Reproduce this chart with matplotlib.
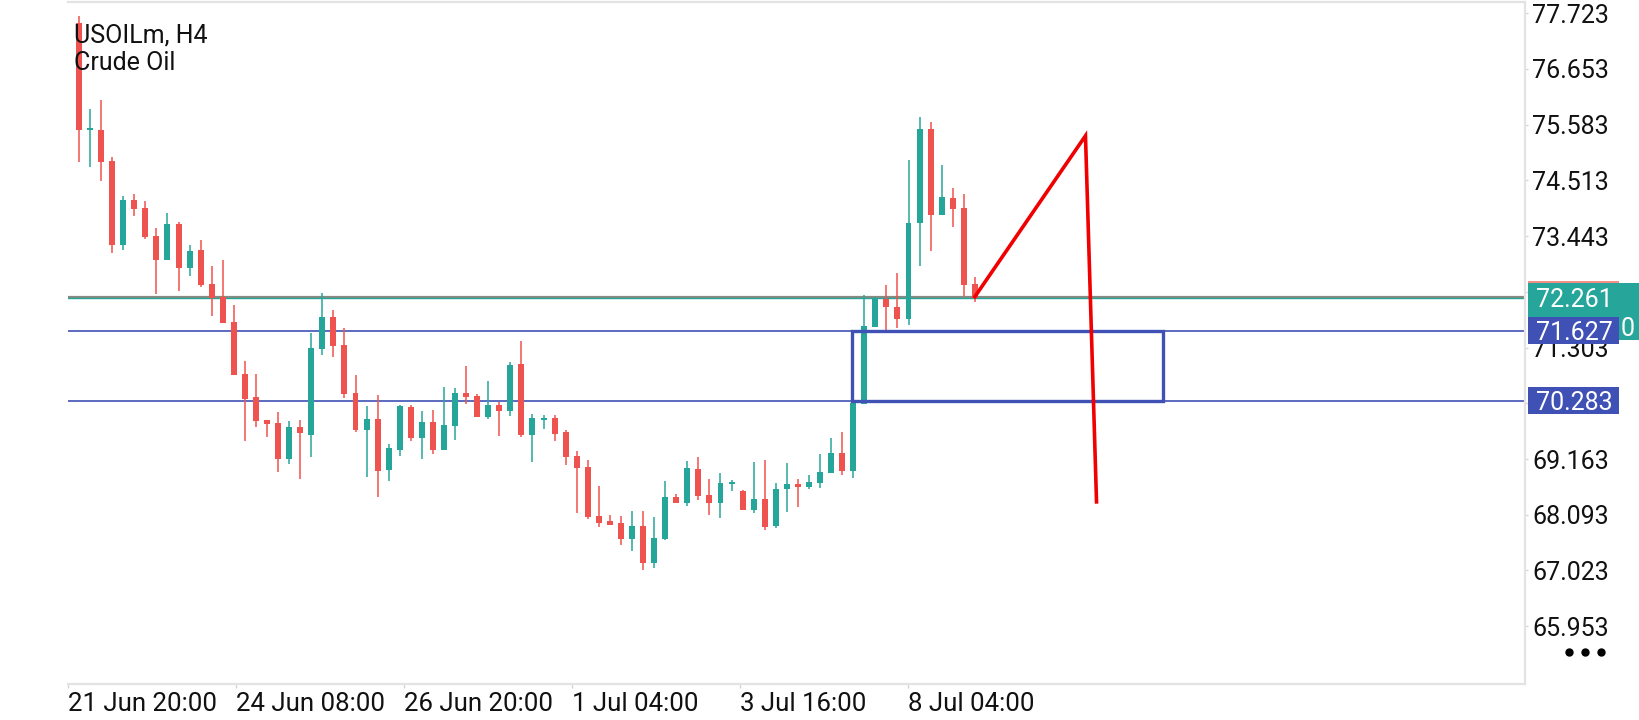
import matplotlib
matplotlib.use("Agg")
import matplotlib.pyplot as plt
import matplotlib.transforms as mtrans
from matplotlib.patches import Rectangle
from matplotlib.lines import Line2D
import numpy as np

plt.rcParams['font.family'] = ['Roboto', 'DejaVu Sans']

# ---------------- data (USOILm H4) ----------------
opens = [77.53, 75.48, 75.48, 74.89, 73.27, 74.14, 73.98, 73.45, 72.98, 73.68,
         72.84, 73.18, 72.52, 72.27, 71.79, 70.80, 70.35, 69.91, 69.85, 69.17,
         69.78, 69.63, 71.28, 71.89, 71.35, 70.43, 69.72, 69.93, 68.95, 69.34,
         70.16, 69.57, 69.87, 69.34, 69.80, 70.43, 70.37, 69.97, 70.20, 70.09,
         70.99, 69.63, 69.92, 69.95, 69.68, 69.22, 69.01, 68.07, 67.97, 67.94,
         67.63, 67.88, 67.17, 67.63, 68.43, 68.32, 68.97, 68.47, 68.32, 68.69,
         68.55, 68.19, 68.40, 67.88, 68.59, 68.68, 68.63, 68.71, 68.90, 69.28,
         68.94, 70.22, 71.70, 72.24, 72.08, 71.85, 73.69, 75.50, 73.85, 74.17,
         73.98, 72.52]
highs = [77.67, 75.89, 76.06, 74.97, 74.21, 74.25, 74.12, 73.59, 73.89, 73.72,
         73.27, 73.37, 72.87, 72.98, 72.12, 71.05, 70.80, 69.91, 70.06, 69.90,
         69.91, 71.58, 72.35, 72.02, 71.67, 70.77, 70.18, 70.39, 69.45, 70.21,
         70.21, 70.09, 70.10, 70.55, 70.52, 70.95, 70.42, 70.67, 70.26, 71.03,
         71.42, 70.03, 70.00, 70.00, 69.72, 69.31, 69.14, 68.65, 68.09, 68.07,
         68.17, 68.17, 68.05, 68.74, 68.49, 69.13, 69.20, 68.78, 68.89, 68.76,
         68.57, 69.11, 69.14, 68.70, 69.08, 68.77, 68.86, 69.26, 69.57, 69.68,
         70.23, 72.31, 72.27, 72.50, 72.73, 74.90, 75.74, 75.63, 74.81, 74.37,
         74.25, 72.66]
lows = [74.87, 74.78, 74.51, 73.12, 73.18, 73.83, 73.39, 72.33, 72.98, 72.38,
        72.68, 72.47, 71.90, 71.77, 70.78, 69.51, 69.78, 69.59, 68.92, 69.06,
        68.77, 69.21, 71.17, 71.13, 70.34, 69.69, 68.82, 68.44, 68.75, 69.23,
        69.50, 69.17, 69.26, 69.33, 69.53, 70.22, 69.97, 69.94, 69.61, 69.99,
        69.59, 69.11, 69.73, 69.51, 69.05, 68.13, 68.02, 67.86, 67.90, 67.51,
        67.40, 67.03, 67.07, 67.61, 68.32, 68.27, 68.38, 68.09, 68.04, 68.54,
        68.19, 68.13, 67.80, 67.84, 68.15, 68.24, 68.58, 68.60, 68.89, 68.86,
        68.80, 70.22, 71.70, 71.58, 71.67, 71.74, 72.86, 73.16, 73.85, 73.62,
        72.29, 72.18]
closes = [75.49, 75.51, 74.87, 73.27, 74.14, 73.96, 73.42, 72.98, 73.68, 72.84,
          73.16, 72.50, 72.25, 71.78, 70.78, 70.32, 69.90, 69.84, 69.17, 69.78,
          69.66, 71.29, 71.89, 71.34, 70.42, 69.72, 69.93, 68.93, 69.37, 70.18,
          69.57, 69.87, 69.34, 69.82, 70.43, 70.36, 69.97, 70.20, 70.09, 70.97,
          69.63, 69.95, 69.94, 69.65, 69.21, 69.00, 68.05, 67.94, 67.90, 67.63,
          67.88, 67.17, 67.65, 68.43, 68.32, 68.99, 68.46, 68.32, 68.70, 68.71,
          68.19, 68.40, 67.86, 68.59, 68.68, 68.63, 68.73, 68.91, 69.28, 68.94,
          70.23, 71.72, 72.26, 72.08, 71.85, 73.69, 75.50, 73.85, 74.19, 73.97,
          72.50, 72.261]

price_ticks = [77.723, 76.653, 75.583, 74.513, 73.443, 72.373, 71.303,
               70.233, 69.163, 68.093, 67.023, 65.953]
hidden_ticks = [72.373, 70.233]   # fully covered by the price labels
time_tick_pos = [-0.97, 14.2, 29.4, 44.55, 59.77, 74.93]
time_tick_labels = ["21 Jun 20:00", "24 Jun 08:00", "26 Jun 20:00",
                    "1 Jul 04:00", "3 Jul 16:00", "8 Jul 04:00"]

bid_price = 72.261
ask_line_price = 72.283
zone_top = 71.627
zone_bottom = 70.283
zone_start_idx = 69.9
zone_end_idx = 98.0
zigzag_idx = [81, 91, 92]
zigzag_price = [72.28, 75.37, 68.34]

# ---------------- figure ----------------
W, H = 1640, 720
fig = plt.figure(figsize=(W / 100, H / 100), dpi=100)
fig.patch.set_facecolor('white')
ax = fig.add_axes([68 / W, 1 - 684 / H, (1525 - 68) / W, (684 - 2) / H])
ax.set_facecolor('white')

UP = '#26a69a'
DOWN = '#ef5350'
INDIGO = '#3f51b5'
AXIS_GRAY = '#e3e3e3'

x = np.arange(len(opens))
o = np.array(opens); c = np.array(closes)
hi = np.array(highs); lo = np.array(lows)
colors = [UP if cc >= oo else DOWN for oo, cc in zip(o, c)]

ax.vlines(x, lo, hi, colors=colors, linewidth=1.1, zorder=3)
body_bottom = np.minimum(o, c)
body_h = np.maximum(np.abs(c - o), 0.035)
ax.bar(x, body_h, bottom=body_bottom, width=0.54, color=colors,
       linewidth=0, zorder=3.1)

# horizontal lines
ax.axhline(ask_line_price, color='#8a8a80', linewidth=1.6, zorder=2)
ax.axhline(bid_price, color=UP, linewidth=1.0, zorder=2.1)
ax.axhline(zone_top, color=INDIGO, linewidth=1.2, zorder=2)
ax.axhline(zone_bottom, color=INDIGO, linewidth=1.2, zorder=2)

# zone rectangle
ax.add_patch(Rectangle((zone_start_idx, zone_bottom), zone_end_idx - zone_start_idx,
                       zone_top - zone_bottom, fill=False, edgecolor=INDIGO,
                       linewidth=2.4, zorder=4))

# red projection line
ax.plot(zigzag_idx, zigzag_price, color='#f00000', linewidth=2.6,
        solid_joinstyle='miter', zorder=5)

# limits
ax.set_xlim(-0.995, 130.74)
ax.set_ylim(64.843, 77.939)

# spines
ax.spines['left'].set_visible(False)
for s in ['top', 'right', 'bottom']:
    ax.spines[s].set_color(AXIS_GRAY)
    ax.spines[s].set_linewidth(1.6)

# y axis on right
ax.yaxis.tick_right()
ax.set_yticks(price_ticks)
ax.set_yticklabels(["" if v in hidden_ticks else f"{v:.3f}" for v in price_ticks])
ax.tick_params(axis='y', which='both', length=2.5, width=1, color='#d6d6d6',
               pad=2.5, labelsize=18, labelcolor='#111111', left=False)

# x axis
ax.set_xticks(time_tick_pos)
ax.set_xticklabels(time_tick_labels, ha='left')
ax.tick_params(axis='x', which='both', length=3, width=1, color='#d6d6d6',
               pad=3, labelsize=18.6, labelcolor='#111111')

# title
fig.text(74 / W, 1 - 42.7 / H, "USOILm, H4", fontsize=18, color='#111111',
         va='baseline', ha='left', zorder=10)
fig.text(74 / W, 1 - 70 / H, "Crude Oil", fontsize=18, color='#111111',
         va='baseline', ha='left', zorder=10)

# price labels on right axis
trans = mtrans.blended_transform_factory(fig.transFigure, ax.transData)
bx0 = 1528 / W
bx1 = 1618.7 / W
half = 0.26
# hidden ask label sliver
ax.add_patch(Rectangle((bx0, 72.50), bx1 - bx0, 0.085, transform=trans,
                       facecolor='#f28d88', edgecolor='none', clip_on=False,
                       zorder=8))
# teal bid label (two rows)
ax.add_patch(Rectangle((bx0, 71.45), 1.0 - bx0, 72.545 - 71.45, transform=trans,
                       facecolor=UP, edgecolor='none', clip_on=False, zorder=9))
ax.text(1536 / W, bid_price, f"{bid_price:.3f}", transform=trans, color='white',
        fontsize=18, va='center_baseline', ha='left', clip_on=False, zorder=9.5)
ax.text(1621 / W, 71.70, "0", transform=trans, color='white',
        fontsize=18, va='center_baseline', ha='left', clip_on=False, zorder=9.5)
# indigo zone labels
for p in (zone_top, zone_bottom):
    ax.add_patch(Rectangle((bx0, p - half), bx1 - bx0, 2 * half, transform=trans,
                           facecolor=INDIGO, edgecolor='none', clip_on=False,
                           zorder=10))
    ax.text(1536 / W, p, f"{p:.3f}", transform=trans, color='white',
            fontsize=18, va='center_baseline', ha='left', clip_on=False,
            zorder=11)

# three dots menu
fig.add_artist(Line2D([1569 / W, 1585 / W, 1601 / W], [1 - 652 / H] * 3,
                      transform=fig.transFigure, linestyle='none', marker='o',
                      markersize=5, color='black'))

fig.savefig("out.png", dpi=100, facecolor='white')
